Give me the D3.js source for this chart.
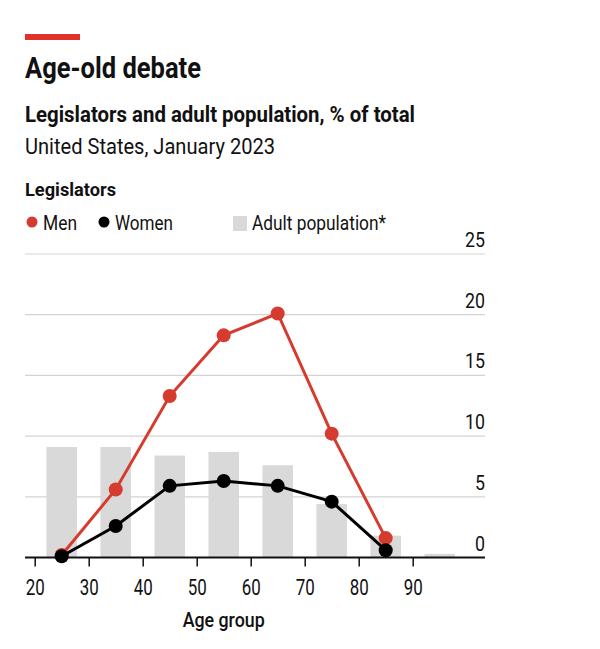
<!DOCTYPE html>
<html>
<head>
<meta charset="utf-8">
<script src="https://cdn.jsdelivr.net/npm/d3@7"></script>
<style>
  body { margin: 0; background: #fff; }
  text { font-family: Roboto, "Noto Sans", sans-serif; }
</style>
</head>
<body>
<div id="chart"></div>
<script>
// data
var ages = [25, 35, 45, 55, 65, 75, 85];
var popAges = [25, 35, 45, 55, 65, 75, 85, 95];
var men = [0.2, 5.6, 13.3, 18.3, 20.1, 10.2, 1.6];
var women = [0.1, 2.6, 5.9, 6.3, 5.9, 4.6, 0.6];
var adultPop = [9.1, 9.1, 8.4, 8.7, 7.6, 4.4, 1.8, 0.3];
var xTicks = [20, 30, 40, 50, 60, 70, 80, 90];
var yTicks = [0, 5, 10, 15, 20, 25];

var svgWidth = 600;
var svgHeight = 649;
var red = "#d63b2f";
var ink = "#111";

var svg = d3.select("#chart")
  .append("svg")
  .attr("width", svgWidth)
  .attr("height", svgHeight);

// header
svg.append("rect").attr("x", 25).attr("y", 34).attr("width", 55).attr("height", 6).attr("fill", "#e0322a");

svg.append("text").attr("x", 25).attr("y", 78)
  .attr("font-size", 29).attr("font-weight", "bold").attr("fill", ink)
  .attr("textLength", 176).attr("lengthAdjust", "spacingAndGlyphs")
  .text("Age-old debate");

svg.append("text").attr("x", 25).attr("y", 122)
  .attr("font-size", 22).attr("font-weight", "bold").attr("fill", ink)
  .attr("textLength", 390).attr("lengthAdjust", "spacingAndGlyphs")
  .text("Legislators and adult population, % of total");

svg.append("text").attr("x", 25).attr("y", 154)
  .attr("font-size", 22).attr("fill", ink)
  .attr("textLength", 250).attr("lengthAdjust", "spacingAndGlyphs")
  .text("United States, January 2023");

svg.append("text").attr("x", 25).attr("y", 196)
  .attr("font-size", 19).attr("font-weight", "bold").attr("fill", ink)
  .attr("textLength", 91).attr("lengthAdjust", "spacingAndGlyphs")
  .text("Legislators");

// legend
var legend = svg.append("g").attr("fill", ink);
legend.append("circle").attr("cx", 32).attr("cy", 222).attr("r", 5.5).attr("fill", red);
legend.append("text").attr("x", 43).attr("y", 230).attr("font-size", 20)
  .attr("textLength", 34).attr("lengthAdjust", "spacingAndGlyphs").text("Men");
legend.append("circle").attr("cx", 104).attr("cy", 222).attr("r", 5.5).attr("fill", "#000");
legend.append("text").attr("x", 115).attr("y", 230).attr("font-size", 20)
  .attr("textLength", 58).attr("lengthAdjust", "spacingAndGlyphs").text("Women");
legend.append("rect").attr("x", 233).attr("y", 216).attr("width", 14).attr("height", 15).attr("fill", "#d9d9d9");
legend.append("text").attr("x", 252).attr("y", 230).attr("font-size", 20)
  .attr("textLength", 134).attr("lengthAdjust", "spacingAndGlyphs").text("Adult population*");

// scales
var x = d3.scaleLinear().domain([20, 90]).range([34.7, 412.7]);
var y = d3.scaleLinear().domain([0, 25]).range([557.5, 254]);
var barW = x(25.65) - x(20);

// gridlines with labels on the right
var grid = svg.append("g");
grid.selectAll("line").data(yTicks.filter(function(d) { return d > 0; })).enter()
  .append("line")
  .attr("x1", 25).attr("x2", 485)
  .attr("y1", function(d) { return y(d); })
  .attr("y2", function(d) { return y(d); })
  .attr("stroke", "#d3d3d3").attr("stroke-width", 1.2);
grid.selectAll("text").data(yTicks).enter()
  .append("text")
  .attr("x", 485)
  .attr("y", function(d) { return y(d) - 7; })
  .attr("text-anchor", "end")
  .attr("font-size", 21).attr("fill", ink)
  .attr("textLength", function(d) { return d >= 10 ? 20 : 10; })
  .attr("lengthAdjust", "spacingAndGlyphs")
  .text(function(d) { return d; });

// bars
svg.append("g").selectAll("rect").data(popAges).enter()
  .append("rect")
  .attr("x", function(d) { return x(d) - barW / 2; })
  .attr("width", barW)
  .attr("y", function(d, i) { return y(adultPop[i]); })
  .attr("height", function(d, i) { return y(0) - y(adultPop[i]); })
  .attr("fill", "#d9d9d9");

// x axis
var xAxis = d3.axisBottom(x).tickValues(xTicks).tickSize(9).tickPadding(13);
var gx = svg.append("g").attr("transform", "translate(0," + y(0) + ")").call(xAxis);
gx.select(".domain").remove();
gx.selectAll(".tick line").attr("stroke", ink).attr("stroke-width", 1.5);
gx.selectAll(".tick text").attr("font-size", 22).attr("fill", ink)
  .attr("font-family", "Roboto, sans-serif")
  .attr("textLength", 19).attr("lengthAdjust", "spacingAndGlyphs");
svg.append("line").attr("x1", 25).attr("x2", 485).attr("y1", y(0)).attr("y2", y(0))
  .attr("stroke", ink).attr("stroke-width", 2);

svg.append("text").attr("x", x(55)).attr("y", 627).attr("text-anchor", "middle")
  .attr("font-size", 21).attr("font-weight", 500).attr("fill", ink)
  .attr("textLength", 82).attr("lengthAdjust", "spacingAndGlyphs")
  .text("Age group");

// lines
function drawSeries(vals, color) {
  var line = d3.line()
    .x(function(d, i) { return x(ages[i]); })
    .y(function(d) { return y(d); });
  svg.append("path").datum(vals)
    .attr("d", line).attr("fill", "none")
    .attr("stroke", color).attr("stroke-width", 3);
  svg.append("g").selectAll("circle").data(vals).enter()
    .append("circle")
    .attr("cx", function(d, i) { return x(ages[i]); })
    .attr("cy", function(d) { return y(d); })
    .attr("r", 7)
    .attr("fill", color);
}
drawSeries(men, red);
drawSeries(women, "#000");
</script>
</body>
</html>
